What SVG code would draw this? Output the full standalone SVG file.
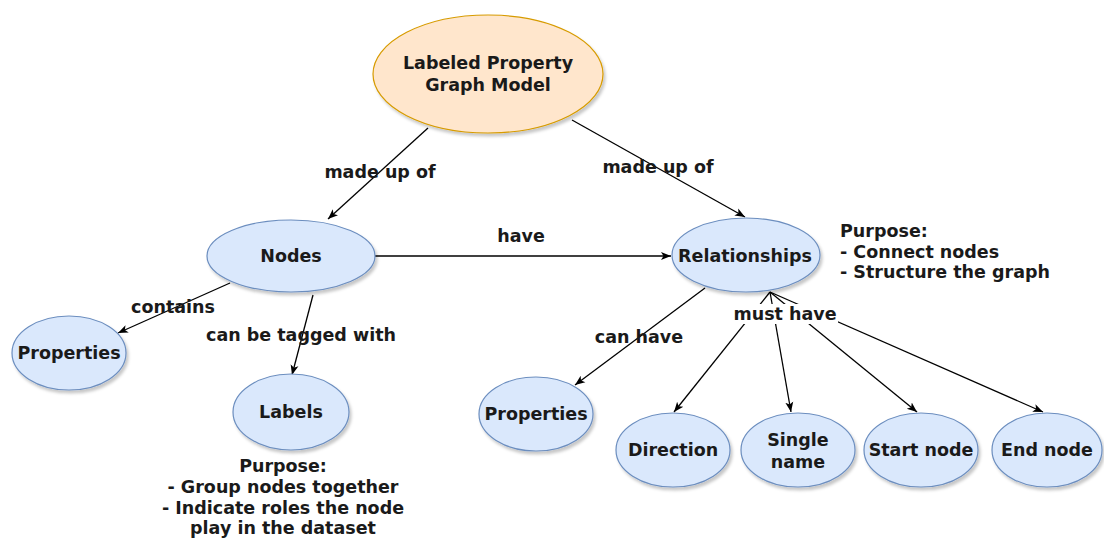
<svg xmlns="http://www.w3.org/2000/svg" width="1104" height="538" viewBox="0 0 1104 538">
<style>
text{font-family:"DejaVu Sans","Liberation Sans",sans-serif;font-weight:bold;font-size:17.5px;fill:#1a1a1a}
.c{text-anchor:middle}
.blue{fill:#dae8fc;stroke:#6c8ebf;stroke-width:1.2}
.orange{fill:#ffe6cc;stroke:#d79b00;stroke-width:1.2}
.edge{stroke:#000;stroke-width:1.3;fill:none;marker-end:url(#arr)}
</style>
<defs>
<marker id="arr" viewBox="0 0 10 10" refX="10" refY="5" markerWidth="10" markerHeight="10" markerUnits="userSpaceOnUse" orient="auto">
<path d="M0,1 L10,5 L0,9 L2.5,5 z" fill="#000"/>
</marker>
<filter id="sh" x="-20%" y="-20%" width="140%" height="150%">
<feDropShadow dx="2" dy="3" stdDeviation="1.5" flood-color="#000" flood-opacity="0.22"/>
</filter>
</defs>
<rect width="1104" height="538" fill="#fff"/>

<g id="connectors">
<line class="edge" x1="428" y1="128" x2="328" y2="219"/>
<line class="edge" x1="572" y1="120" x2="745" y2="217"/>
<line class="edge" x1="375" y1="256" x2="671" y2="256"/>
<line class="edge" x1="230" y1="283" x2="118" y2="333"/>
<line class="edge" x1="313" y1="295" x2="292" y2="375"/>
<line class="edge" x1="705" y1="288" x2="575" y2="385"/>
<line class="edge" x1="770" y1="292" x2="674" y2="412"/>
<line class="edge" x1="770" y1="292" x2="791" y2="412"/>
<line class="edge" x1="770" y1="292" x2="917" y2="412"/>
<line class="edge" x1="770" y1="292" x2="1043" y2="412"/>
<text class="c" x="380" y="178">made up of</text>
<text class="c" x="658" y="173">made up of</text>
<text class="c" x="521" y="242">have</text>
<text class="c" x="173" y="313">contains</text>
<text class="c" x="301" y="341">can be tagged with</text>
<text class="c" x="639" y="343">can have</text>
<rect x="733" y="304" width="105" height="20" fill="#fff"/>
<text class="c" x="785" y="320">must have</text>
</g>

<g id="lpg">
<ellipse class="orange" filter="url(#sh)" cx="488" cy="74" rx="115" ry="59"/>
<text class="c" x="488" y="69">Labeled Property</text>
<text class="c" x="488" y="91">Graph Model</text>
</g>
<g id="nodes">
<ellipse class="blue" filter="url(#sh)" cx="291" cy="256" rx="84" ry="36"/>
<text class="c" x="291" y="262">Nodes</text>
</g>
<g id="relationships">
<ellipse class="blue" filter="url(#sh)" cx="746" cy="255" rx="74" ry="37"/>
<text class="c" x="745" y="262">Relationships</text>
</g>
<g id="rel-purpose">
<text x="840" y="237">Purpose:</text>
<text x="840" y="258">- Connect nodes</text>
<text x="840" y="278">- Structure the graph</text>
</g>
<g id="properties-left">
<ellipse class="blue" filter="url(#sh)" cx="69" cy="353" rx="57" ry="37"/>
<text class="c" x="69" y="359">Properties</text>
</g>
<g id="labels">
<ellipse class="blue" filter="url(#sh)" cx="291" cy="412" rx="58" ry="38"/>
<text class="c" x="291" y="418">Labels</text>
</g>
<g id="labels-purpose">
<text class="c" x="283" y="472">Purpose:</text>
<text class="c" x="283" y="493">- Group nodes together</text>
<text class="c" x="283" y="514">- Indicate roles the node</text>
<text class="c" x="283" y="534">play in the dataset</text>
</g>
<g id="properties-right">
<ellipse class="blue" filter="url(#sh)" cx="536" cy="414" rx="57" ry="37"/>
<text class="c" x="536" y="420">Properties</text>
</g>
<g id="direction">
<ellipse class="blue" filter="url(#sh)" cx="673" cy="450" rx="57" ry="37"/>
<text class="c" x="673" y="456">Direction</text>
</g>
<g id="single-name">
<ellipse class="blue" filter="url(#sh)" cx="798" cy="450" rx="57" ry="37"/>
<text class="c" x="798" y="446">Single</text>
<text class="c" x="798" y="468">name</text>
</g>
<g id="start-node">
<ellipse class="blue" filter="url(#sh)" cx="921" cy="450" rx="57" ry="37"/>
<text class="c" x="921" y="456">Start node</text>
</g>
<g id="end-node">
<ellipse class="blue" filter="url(#sh)" cx="1047" cy="450" rx="55" ry="37"/>
<text class="c" x="1047" y="456">End node</text>
</g>
</svg>
